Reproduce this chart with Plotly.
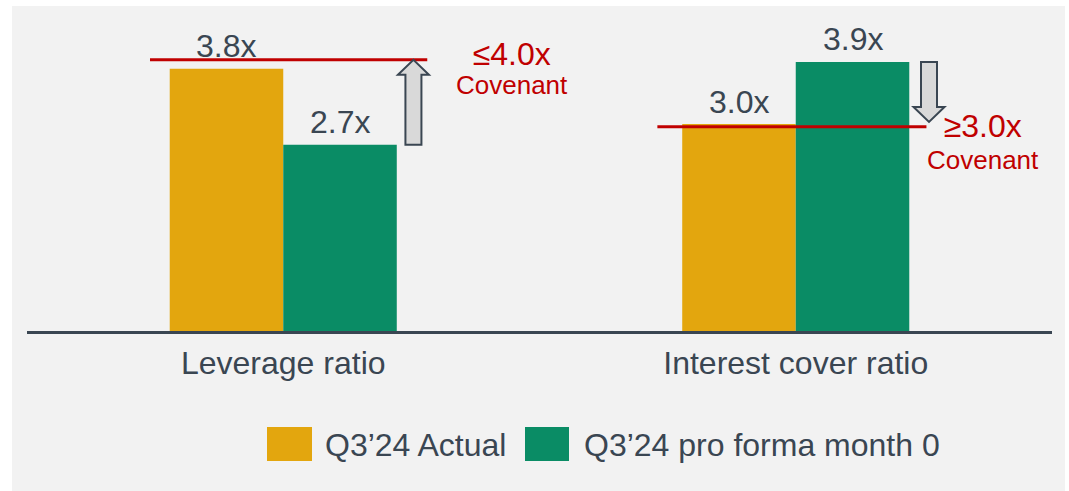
import plotly.graph_objects as go

# ---------------- data ----------------
categories = ["Leverage ratio", "Interest cover ratio"]
series_names = ["Q3\u201924 Actual", "Q3\u201924 pro forma month 0"]
actual = [3.8, 3.0]
pro_forma = [2.7, 3.9]
covenant_labels = ["\u22644.0x", "\u22653.0x"]
covenant_line_level = [3.93, 2.96]   # where the red covenant lines sit
arrow_tip_level = [3.93, 3.03]       # where the grey arrows point to
arrow_dir = ["up", "down"]

# ---------------- style ----------------
ORANGE = "#E3A60E"
GREEN = "#0A8C65"
DARK = "#3A4652"
RED = "#C00000"
BG = "#F2F2F2"
FONT = "Liberation Sans, Arial, sans-serif"

W, H = 1069, 491
ML, MR, MT, MB = 27, 17, 27, 160
PW = W - ML - MR
PH = H - MT - MB
XR = [-0.5, 1.5]
YMAX = PH / 69.0
YR = [0, YMAX]
BARGAP = 0.557
half_group = (1 - BARGAP) / 2          # half of the group width
bar_off = half_group / 2               # offset of each bar centre from category centre

px_x = PW / (XR[1] - XR[0])
px_y = PH / (YR[1] - YR[0])

xs = list(range(len(categories)))

fig = go.Figure()
fig.add_trace(go.Bar(x=xs, y=actual, name=series_names[0], marker=dict(color=ORANGE, line=dict(width=0)),
                     showlegend=False))
fig.add_trace(go.Bar(x=xs, y=pro_forma, name=series_names[1], marker=dict(color=GREEN, line=dict(width=0)),
                     showlegend=False))

shapes = []
annotations = []

def paper_x(p):
    return (p - ML) / PW
def paper_y(p):
    return (MT + PH - p) / PH

# background panel
shapes.append(dict(type="rect", xref="paper", yref="paper", layer="below",
                   x0=paper_x(12), x1=paper_x(1065), y0=paper_y(492), y1=paper_y(6),
                   fillcolor=BG, line=dict(width=0)))

# value labels
for i in xs:
    for val, off in ((actual[i], -bar_off), (pro_forma[i], bar_off)):
        annotations.append(dict(x=i + off, y=val, xref="x", yref="y", text=f"{val:.1f}x",
                                showarrow=False, yanchor="middle", yshift=22.5,
                                font=dict(family=FONT, size=32, color=DARK)))

# covenant lines, arrows, labels
line_ext = [(-0.26, 0.281), (-0.27, 0.255)]
arrow_off = [0.254, 0.260]
lab_off = [0.446, 0.366]
lab_base = [22.5, 24.6]      # base font size -> line spacing between the two label lines
lab_shift = [-8, -15]
sw = 8 / px_x
hw = 15.5 / px_x
hl = 15 / px_y
for i in xs:
    lvl = covenant_line_level[i]
    shapes.append(dict(type="line", xref="x", yref="y", x0=i + line_ext[i][0], x1=i + line_ext[i][1],
                       y0=lvl, y1=lvl, line=dict(color=RED, width=3)))
    xc = i + arrow_off[i]
    yb, yt = pro_forma[i], arrow_tip_level[i]
    yh = yt - hl if arrow_dir[i] == "up" else yt + hl
    path = (f"M {xc - sw},{yb} L {xc - sw},{yh} L {xc - hw},{yh} L {xc},{yt} "
            f"L {xc + hw},{yh} L {xc + sw},{yh} L {xc + sw},{yb} Z")
    shapes.append(dict(type="path", xref="x", yref="y", path=path,
                       fillcolor="#D9D9D9", line=dict(color=DARK, width=2)))
    txt = (f"<span style='font-size:32px'>{covenant_labels[i]}</span><br>"
           f"<span style='font-size:26px'>Covenant</span>")
    annotations.append(dict(x=i + lab_off[i], y=lvl, xref="x", yref="y", text=txt,
                            showarrow=False, xanchor="center", yanchor="middle", align="center",
                            yshift=lab_shift[i],
                            font=dict(family=FONT, size=lab_base[i], color=RED)))

# custom legend
leg = [(267, 312, 323, ORANGE, series_names[0]), (525, 569, 582, GREEN, series_names[1])]
for x0, x1, tx, col, name in leg:
    shapes.append(dict(type="rect", xref="paper", yref="paper", x0=paper_x(x0), x1=paper_x(x1),
                       y0=paper_y(461), y1=paper_y(427), fillcolor=col, line=dict(width=0)))
    annotations.append(dict(x=paper_x(tx), y=paper_y(444.5), xref="paper", yref="paper", text=name,
                            showarrow=False, xanchor="left", yanchor="middle",
                            font=dict(family=FONT, size=32, color=DARK)))

fig.update_layout(
    width=W, height=H,
    margin=dict(l=ML, r=MR, t=MT, b=MB),
    paper_bgcolor="white", plot_bgcolor="rgba(0,0,0,0)",
    barmode="group", bargap=BARGAP, bargroupgap=0,
    shapes=shapes, annotations=annotations,
    showlegend=False,
    xaxis=dict(range=XR, tickvals=xs, ticktext=categories, showgrid=False, zeroline=False,
               showline=True, linecolor=DARK, linewidth=2.5, ticks="", ticklabelstandoff=2,
               tickfont=dict(family=FONT, size=32, color=DARK), fixedrange=True),
    yaxis=dict(range=YR, visible=False, showgrid=False, zeroline=False, fixedrange=True),
)

fig.write_html("out.html", config={"displayModeBar": False},
               post_script="document.body.style.margin='0';document.body.style.overflow='hidden';")
